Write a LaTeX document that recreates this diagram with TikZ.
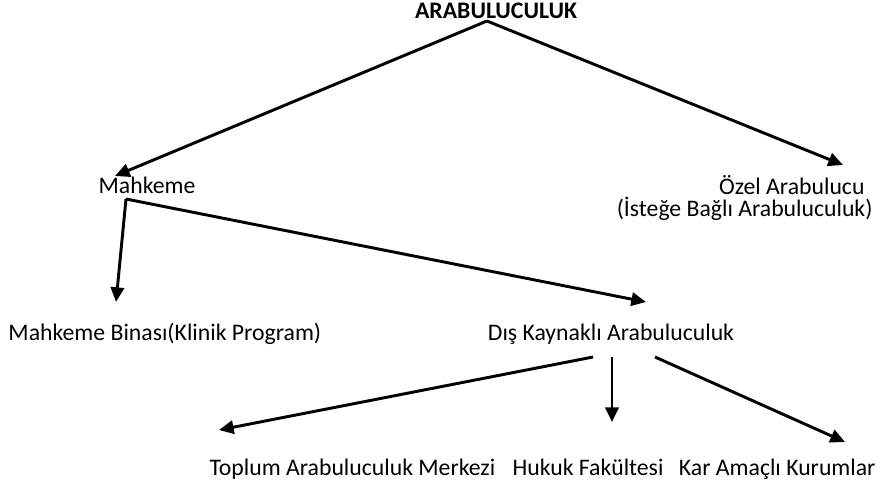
\documentclass[tikz,border=0pt]{standalone}
\usepackage{fontspec}
\setmainfont{Carlito}
\usetikzlibrary{arrows.meta}

\tikzset{every picture/.style={line width=0.75pt}}
\tikzset{
  lbl/.style={inner sep=0pt, font=\fontsize{17.8}{21}\selectfont},
  arr/.style={line width=2.2pt, -{Triangle[length=11pt,width=10pt]}},
}

\begin{document}
\begin{tikzpicture}[x=0.75pt,y=0.75pt,yscale=-1,xscale=1]
	\useasboundingbox (0,0) rectangle (881,482);

	% Text Node
	\node (arab) [lbl, anchor=base, font=\fontsize{17.8}{21}\selectfont\bfseries] at (496,18) {ARABULUCULUK};
	% Text Node
	\node (mahkeme) [lbl, anchor=base] at (147,193) {Mahkeme};
	% Text Node
	\node (ozel) [lbl, anchor=base east] at (865,194) {Özel Arabulucu};
	% Text Node
	\node (istege) [lbl, anchor=base east] at (873,216) {(İsteğe Bağlı Arabuluculuk)};
	% Text Node
	\node (binasi) [lbl, anchor=base west] at (8,340) {Mahkeme Binası(Klinik Program)};
	% Text Node
	\node (dis) [lbl, anchor=base] at (611,340) {Dış Kaynaklı Arabuluculuk};
	% Text Node
	\node (toplum) [lbl, anchor=base west] at (209,475) {Toplum Arabuluculuk Merkezi};
	% Text Node
	\node (hukuk) [lbl, anchor=base] at (588,475) {Hukuk Fakültesi};
	% Text Node
	\node (kar) [lbl, anchor=base east] at (876,475) {Kar Amaçlı Kurumlar};

	% arrow ends
	\coordinate (apex) at (487,21);
	\coordinate (mahkTip) at (115,176);
	\coordinate (ozelTip) at (843,165);
	\coordinate (mahkFoot) at (126,199);
	\coordinate (binasiTip) at (116,302);
	\coordinate (disTip) at (646,302);
	\coordinate (disL) at (593,357);
	\coordinate (disM) at (612,357);
	\coordinate (disR) at (655,357);
	\coordinate (toplumTip) at (219,430);
	\coordinate (hukukTip) at (612,422);
	\coordinate (karTip) at (845,442);

	%Straight Lines
	\draw [arr] (apex) -- (mahkTip);
	\draw [arr] (apex) -- (ozelTip);
	%Straight Lines
	\draw [arr] (mahkFoot) -- (binasiTip);
	\draw [arr] (mahkFoot) -- (disTip);
	%Straight Lines
	\draw [arr] (disL) -- (toplumTip);
	\draw [arr] (disM) -- (hukukTip);
	\draw [arr] (disR) -- (karTip);

\end{tikzpicture}
\end{document}
